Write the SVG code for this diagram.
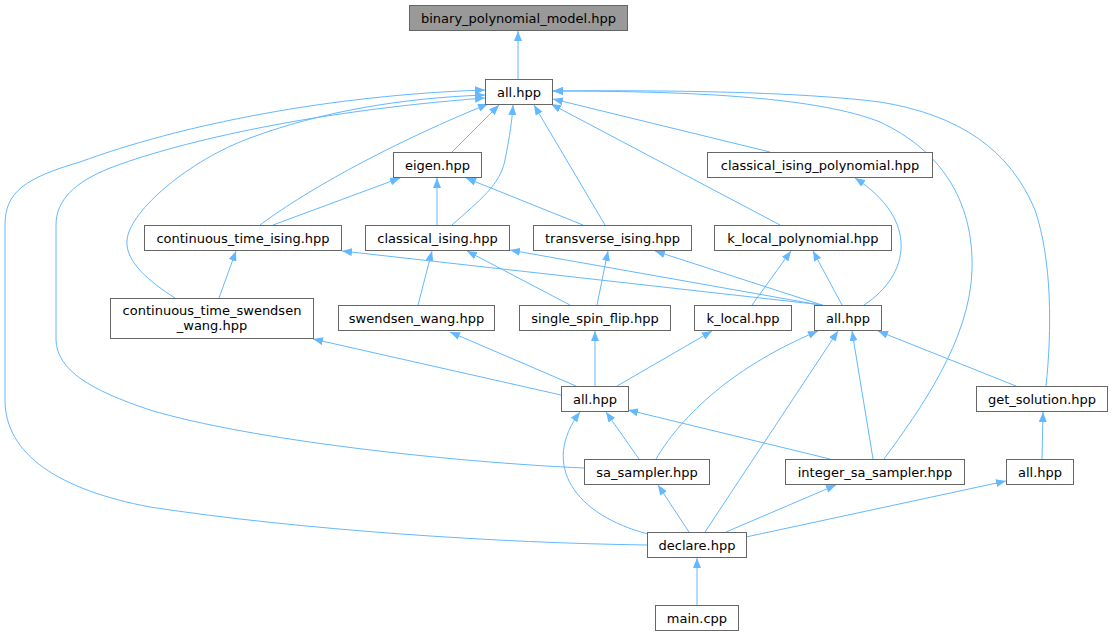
<svg xmlns="http://www.w3.org/2000/svg" width="1113" height="637" viewBox="0 0 1113 637">
<style>
.n rect{fill:#ffffff;stroke:#666666;stroke-width:1}
.n.root rect{fill:#999999}
.n text{font-family:"DejaVu Sans","Liberation Sans",sans-serif;font-size:13px;text-anchor:middle;fill:#000000}
.e path{fill:none;stroke:#63b8ff;stroke-width:1;marker-end:url(#a)}
</style>
<defs>
<marker id="a" viewBox="0 0 10 8" markerWidth="10" markerHeight="8" refX="10" refY="4" orient="auto" markerUnits="userSpaceOnUse"><path d="M0,0 L10,4 L0,8 z" fill="#63b8ff"/></marker>
</defs>
<rect width="1113" height="637" fill="#ffffff"/>
<g id="edges" class="e">
<path d="M518,79 L518,31"/>
<path d="M452,152 L499,105"/>
<path d="M260,225 C300,195 380,148 488,104"/>
<path d="M175,298 C150,282 125,262 127,240 C130,210 190,160 250,138 C320,112 400,98 485,95"/>
<path d="M452,225 C480,200 500,185 505,160 C510,135 512,120 513,105"/>
<path d="M605,225 L534,105"/>
<path d="M780,225 L551,104"/>
<path d="M770,152 L553,99"/>
<path d="M884,459 C920,410 970,340 972,270 C974,200 940,150 880,122 C820,98 700,91 553,91"/>
<path d="M1046,386 C1052,330 1052,260 1035,210 C1010,150 960,115 880,102 C800,92 680,90 553,91"/>
<path d="M584,468 C450,462 250,440 150,410 C90,390 57,370 56,340 L56,225 C56,200 75,182 110,168 C170,145 300,112 485,98"/>
<path d="M647,545 C500,543 300,530 150,507 C60,490 5,455 5,400 L5,225 C5,192 25,178 80,162 C180,125 330,95 485,90"/>
<path d="M273,225 L400,178"/>
<path d="M437,225 L437,178"/>
<path d="M583,225 L466,178"/>
<path d="M219,298 L236,251"/>
<path d="M823,305 L342,251"/>
<path d="M820,305 L510,250"/>
<path d="M822,305 L655,251"/>
<path d="M842,305 L813,251"/>
<path d="M864,305 C910,275 920,220 855,178"/>
<path d="M418,305 L432,251"/>
<path d="M570,305 L467,251"/>
<path d="M597,305 L608,251"/>
<path d="M752,305 L791,251"/>
<path d="M561,395 L313,339"/>
<path d="M576,386 L450,332"/>
<path d="M595,386 L595,331"/>
<path d="M617,386 L712,331"/>
<path d="M639,459 L606,412"/>
<path d="M656,459 C678,422 725,370 818,331"/>
<path d="M648,534 C575,515 540,465 580,412"/>
<path d="M705,532 L838,331"/>
<path d="M830,459 L628,410"/>
<path d="M873,459 L852,331"/>
<path d="M1016,386 L878,331"/>
<path d="M1042,459 L1043,412"/>
<path d="M689,532 L658,485"/>
<path d="M726,532 L836,485"/>
<path d="M746,537 L1006,481"/>
<path d="M697,605 L697,558"/>
</g>
<g id="n_bpm" class="n root"><rect x="409.5" y="5.5" width="218" height="25"/><text x="518.5" y="22.5">binary_polynomial_model.hpp</text></g>
<g id="n_all0" class="n"><rect x="485.5" y="79.5" width="67" height="25"/><text x="519" y="96.5">all.hpp</text></g>
<g id="n_eigen" class="n"><rect x="393.5" y="152.5" width="88" height="25"/><text x="437.5" y="169.5">eigen.hpp</text></g>
<g id="n_cip" class="n"><rect x="707.5" y="152.5" width="225" height="25"/><text x="820" y="169.5">classical_ising_polynomial.hpp</text></g>
<g id="n_cti" class="n"><rect x="144.5" y="225.5" width="197" height="25"/><text x="243" y="242.5">continuous_time_ising.hpp</text></g>
<g id="n_ci" class="n"><rect x="365.5" y="225.5" width="144" height="25"/><text x="437.5" y="242.5">classical_ising.hpp</text></g>
<g id="n_ti" class="n"><rect x="533.5" y="225.5" width="158" height="25"/><text x="612.5" y="242.5">transverse_ising.hpp</text></g>
<g id="n_klp" class="n"><rect x="714.5" y="225.5" width="177" height="25"/><text x="803" y="242.5">k_local_polynomial.hpp</text></g>
<g id="n_ctsw" class="n"><rect x="110.5" y="298.5" width="203" height="40"/><text x="212" y="314.5">continuous_time_swendsen</text><text x="212" y="329.5">_wang.hpp</text></g>
<g id="n_sw" class="n"><rect x="338.5" y="305.5" width="156" height="25"/><text x="416.5" y="322.5">swendsen_wang.hpp</text></g>
<g id="n_ssf" class="n"><rect x="519.5" y="305.5" width="151" height="25"/><text x="595" y="322.5">single_spin_flip.hpp</text></g>
<g id="n_kl" class="n"><rect x="694.5" y="305.5" width="97" height="25"/><text x="743" y="322.5">k_local.hpp</text></g>
<g id="n_all1" class="n"><rect x="814.5" y="305.5" width="67" height="25"/><text x="848" y="322.5">all.hpp</text></g>
<g id="n_all2" class="n"><rect x="561.5" y="386.5" width="67" height="25"/><text x="595" y="403.5">all.hpp</text></g>
<g id="n_gs" class="n"><rect x="976.5" y="386.5" width="131" height="25"/><text x="1042" y="403.5">get_solution.hpp</text></g>
<g id="n_sa" class="n"><rect x="584.5" y="459.5" width="125" height="25"/><text x="647" y="476.5">sa_sampler.hpp</text></g>
<g id="n_isa" class="n"><rect x="785.5" y="459.5" width="179" height="25"/><text x="875" y="476.5">integer_sa_sampler.hpp</text></g>
<g id="n_all3" class="n"><rect x="1006.5" y="459.5" width="67" height="25"/><text x="1040" y="476.5">all.hpp</text></g>
<g id="n_declare" class="n"><rect x="647.5" y="532.5" width="99" height="25"/><text x="697" y="549.5">declare.hpp</text></g>
<g id="n_main" class="n"><rect x="655.5" y="605.5" width="83" height="25"/><text x="697" y="622.5">main.cpp</text></g>
</svg>
